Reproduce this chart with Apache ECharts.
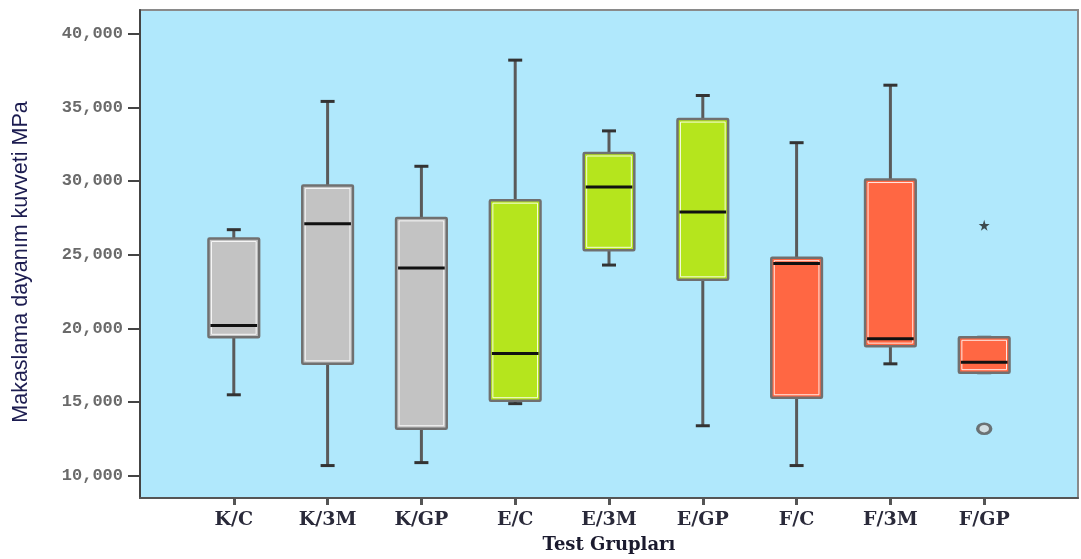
<!DOCTYPE html>
<html>
<head>
<meta charset="utf-8">
<title>Makaslama dayanım kuvveti</title>
<script src="https://cdn.jsdelivr.net/npm/echarts@6.0.0/dist/echarts.min.js"></script>
<style>
    html, body { margin: 0; padding: 0; background: #fff; }
    #chart { width: 1081px; height: 559px; }
</style>
</head>
<body>
<div id="chart"></div>
<script>
// Test grupları
const groups = ['K/C', 'K/3M', 'K/GP', 'E/C', 'E/3M', 'E/GP', 'F/C', 'F/3M', 'F/GP'];

// Kutu grafiği değerleri (MPa)
const minValues    = [15.5, 10.7, 10.9, 14.9, 24.3, 13.4, 10.7, 17.6, 17.0];
const q1Values     = [19.4, 17.6, 13.2, 15.1, 25.3, 23.3, 15.3, 18.8, 17.0];
const medianValues = [20.2, 27.1, 24.1, 18.3, 29.6, 27.9, 24.4, 19.3, 17.7];
const q3Values     = [26.1, 29.7, 27.5, 28.7, 31.9, 34.2, 24.8, 30.1, 19.4];
const maxValues    = [26.7, 35.4, 31.0, 38.2, 33.4, 35.8, 32.6, 36.5, 19.4];

// Malzeme grubu: 0 = K, 1 = E, 2 = F
const material = [0, 0, 0, 1, 1, 1, 2, 2, 2];

// Aykırı (o) ve uç (*) değerler: [grup, değer]
const outlierPoints = [['F/GP', 13.2]];
const extremePoints = [['F/GP', 27.0]];

// Y ekseni işaretleri
const yTicks = [10, 15, 20, 25, 30, 35, 40];

const boxColors = ['#c3c3c3', '#b5e51d', '#ff6743'];
const starPath = 'path://M50,0 L61,35 L98,35 L68,57 L79,91 L50,70 L21,91 L32,57 L2,35 L39,35 Z';

document.addEventListener('DOMContentLoaded', function() {
    initBoxChart();
});

function renderBox(params, api) {
    const idx = api.value(0);
    const pMax = api.coord([idx, api.value(5)]);
    const pQ3 = api.coord([idx, api.value(4)]);
    const pMed = api.coord([idx, api.value(3)]);
    const pQ1 = api.coord([idx, api.value(2)]);
    const pMin = api.coord([idx, api.value(1)]);
    const band = api.coord([idx + 1, 0])[0] - pMed[0];
    const half = band * 0.27;
    const capHalf = 7;
    const x = pMed[0];
    const fill = boxColors[api.value(6)];
    const whisker = { stroke: '#5a5a5a', lineWidth: 3 };
    const cap = { stroke: '#333', lineWidth: 3 };

    return {
        type: 'group',
        children: [
            { type: 'line', shape: { x1: x, y1: pMax[1], x2: x, y2: pQ3[1] }, style: whisker },
            { type: 'line', shape: { x1: x, y1: pQ1[1], x2: x, y2: pMin[1] }, style: whisker },
            { type: 'line', shape: { x1: x - capHalf, y1: pMax[1], x2: x + capHalf, y2: pMax[1] }, style: cap },
            { type: 'line', shape: { x1: x - capHalf, y1: pMin[1], x2: x + capHalf, y2: pMin[1] }, style: cap },
            {
                type: 'rect',
                shape: { x: x - half, y: pQ3[1], width: half * 2, height: pQ1[1] - pQ3[1], r: 1 },
                style: { fill: fill, stroke: '#707070', lineWidth: 2.5 }
            },
            {
                type: 'rect',
                shape: { x: x - half + 3, y: pQ3[1] + 3, width: half * 2 - 6, height: Math.max(pQ1[1] - pQ3[1] - 6, 0) },
                style: { fill: null, stroke: 'rgba(255,255,255,0.85)', lineWidth: 1 }
            },
            { type: 'line', shape: { x1: x - half + 2, y1: pMed[1], x2: x + half - 2, y2: pMed[1] }, style: { stroke: '#111', lineWidth: 3 } }
        ]
    };
}

function initBoxChart() {
    const chartDom = document.getElementById('chart');
    const myChart = echarts.init(chartDom);

    // boş kenar kategorileri kutuları eksenden uzaklaştırır
    const axisCategories = [''].concat(groups, ['']);
    const boxData = groups.map(function(g, i) {
        return [i + 1, minValues[i], q1Values[i], medianValues[i], q3Values[i], maxValues[i], material[i]];
    });
    const toPoint = function(p) { return [groups.indexOf(p[0]) + 1, p[1]]; };

    const option = {
        animation: false,
        backgroundColor: '#fff',
        grid: {
            left: 140,
            top: 10,
            width: 944,
            height: 489,
            show: true,
            backgroundColor: '#b0e8fc',
            borderColor: '#8a8a8a',
            borderWidth: 2
        },
        xAxis: {
            type: 'category',
            data: axisCategories,
            boundaryGap: false,
            name: 'Test Grupları',
            nameLocation: 'middle',
            nameGap: 38,
            nameTextStyle: {
                fontFamily: 'DejaVu Serif',
                fontWeight: 'bold',
                fontSize: 18,
                color: '#1a1a2e'
            },
            axisLine: { lineStyle: { color: '#555', width: 2 } },
            axisTick: {
                length: 7,
                interval: function(index, value) { return value !== ''; },
                lineStyle: { color: '#555', width: 3 }
            },
            axisLabel: {
                margin: 13,
                interval: 0,
                fontFamily: 'DejaVu Serif',
                fontWeight: 'bold',
                fontSize: 19,
                color: '#2a2a3a'
            },
            splitLine: { show: false }
        },
        yAxis: {
            type: 'value',
            min: 8.5,
            max: 41.6,
            name: 'Makaslama dayanım kuvveti MPa',
            nameLocation: 'middle',
            nameGap: 108,
            nameTextStyle: {
                fontFamily: 'Liberation Sans',
                fontSize: 21.5,
                color: '#1c1c50',
                padding: [0, 16, 0, 0]
            },
            axisLine: { show: true, lineStyle: { color: '#444', width: 2 } },
            axisTick: {
                show: true,
                length: 12,
                customValues: yTicks,
                lineStyle: { color: '#444', width: 2 }
            },
            axisLabel: {
                margin: 17,
                customValues: yTicks,
                fontFamily: 'Liberation Mono',
                fontWeight: 'bold',
                fontSize: 17,
                color: '#6a6a6a',
                formatter: function(v) { return v.toFixed(3).replace('.', ','); }
            },
            splitLine: { show: false }
        },
        series: [
            {
                name: 'Kutu',
                type: 'custom',
                renderItem: renderBox,
                encode: { x: 0, y: [1, 2, 3, 4, 5] },
                data: boxData,
                z: 3
            },
            {
                name: 'Aykırı',
                type: 'scatter',
                symbol: 'circle',
                symbolSize: [13, 10],
                itemStyle: { color: '#dcdcdc', borderColor: '#555', borderWidth: 3 },
                data: outlierPoints.map(toPoint),
                z: 4
            },
            {
                name: 'Uç değer',
                type: 'scatter',
                symbol: starPath,
                symbolSize: 11,
                itemStyle: { color: '#222' },
                data: extremePoints.map(toPoint),
                z: 4
            }
        ]
    };

    myChart.setOption(option);

    window.addEventListener('resize', function() {
        myChart.resize();
    });
}
</script>
</body>
</html>
